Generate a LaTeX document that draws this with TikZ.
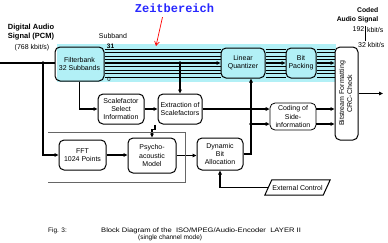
\documentclass[tikz,border=0pt]{standalone}
\usepackage{fontspec}
\setmainfont{Liberation Sans}
\newfontfamily\zmono{Liberation Mono}
\usetikzlibrary{arrows.meta,shapes.geometric,calc}
\definecolor{band}{RGB}{178,240,246}
\definecolor{zblue}{RGB}{40,40,255}
\begin{document}
\begin{tikzpicture}[x=1pt,y=-1pt,
  box/.style={draw,line width=1pt,rounded corners=5pt,align=center,
    font=\fontsize{7}{8.2}\selectfont,inner sep=0pt},
  ln/.style={line width=1.1pt},
  arr/.style={ln,-{Triangle[length=4pt,width=3.6pt]}},
  sub/.style={line width=0.45pt},
  lbl/.style={font=\fontsize{7}{8}\selectfont,inner sep=0pt},
  blbl/.style={font=\bfseries\fontsize{7.5}{8.2}\selectfont,inner sep=0pt,align=center},
  frame/.style={line width=0.6pt,black!60},
  dot/.style={fill=black}
]
\useasboundingbox (0,0) rectangle (388,242);
\fill[white] (0,0) rectangle (388,242);
\fill[band] (57,44) rectangle (336,82);

% boxes
\node[box,minimum width=49pt,minimum height=34pt] (fb) at (79.5,64) {Filterbank\\32 Subbands};
\node[box,minimum width=44pt,minimum height=30pt] (qz) at (243,63) {Linear\\Quantizer};
\node[box,minimum width=30pt,minimum height=30pt] (bp) at (301,63) {Bit\\Packing};
\node[box,fill=white,minimum width=23pt,minimum height=93pt] (bs) at (346.5,93.5)
  {\rotatebox{90}{\begin{tabular}{@{}c@{}}Bitstream Formatting\\CRC-Check\end{tabular}}};
\node[box,minimum width=46pt,minimum height=30pt] (sf) at (121,109) {Scalefactor\\Select\\Information};
\node[box,minimum width=44pt,minimum height=30pt] (ex) at (180,109) {Extraction of\\Scalefactors};
\node[box,line width=0.8pt,minimum width=46pt,minimum height=27pt] (cd) at (293,116.5) {Coding of\\Side-\\information};
\node[box,minimum width=47pt,minimum height=30pt] (fft) at (82.5,155) {FFT\\1024 Points};
\node[box,minimum width=48pt,minimum height=35pt] (ps) at (152,155.5) {Psycho-\\acoustic\\Model};
\node[box,minimum width=46pt,minimum height=32pt] (da) at (220,154) {Dynamic\\Bit\\Allocation};
\node[minimum width=58pt,minimum height=15pt,inner sep=0pt,font=\fontsize{7}{8}\selectfont] (ec) at (297.5,187.5) {External Control};
\draw[line width=1pt] ([xshift=-3.5pt]ec.south west) -- ([xshift=3.5pt]ec.north west)
  -- ([xshift=3.5pt]ec.north east) -- ([xshift=-3.5pt]ec.south east) -- cycle;

% subband lines
\foreach \d in {-14,-10.5,-7,-3.5,3.5,7,10.5,14}{
  \draw[sub] ([yshift=\d pt]qz.west -| fb.east) -- ([yshift=\d pt]qz.west);
  \draw[sub] ([yshift=\d pt]qz.east) -- ([yshift=\d pt]bp.west);
  \draw[sub] ([yshift=\d pt]bp.east) -- ([yshift=\d pt]bp.east -| bs.west);
}
\draw[arr,line width=1.3pt] (fb.east |- qz.west) -- (qz.west);
\draw[arr,line width=1.3pt] (qz.east) -- (bp.west);
\draw[arr,line width=1.3pt] (bp.east) -- (bp.east -| bs.west);

% input
\coordinate (in) at (0,63);
\coordinate (d1) at (43,63);
\draw[ln,line width=1.3pt] (in) -- (fb.west |- in);
\fill[dot] (d1) circle (1.8);
\draw[arr] (d1) |- (fft.west);
\draw[arr] (fb.south) |- (sf.west);
\coordinate (d2) at (180,63);
\fill[dot] (d2) circle (1.8);
\draw[arr] (d2) -- (ex.north);
\draw[arr] (sf.east) -- (ex.west);
\draw[arr] (ex.east) -- (ex.east -| cd.west);
\coordinate (d3) at (251,124);
\draw[ln] (da.east) -| (d3);
\draw[arr] (d3) -- (d3 |- qz.south);
\fill[dot] (d3) circle (1.8);
\draw[arr] (d3) -- (d3 -| cd.west);
\draw[arr] (cd.east |- ex.east) -- (bs.west |- ex.east);
\draw[arr] (cd.east |- d3) -- (bs.west |- d3);
\coordinate (out) at (383,93.5);
\draw[arr] (bs.east) -- (out);
\draw[arr] (fft.east) -- (fft.east -| ps.west);
\draw[arr] (ps.east) -- (ps.east -| da.west);
\draw[arr] ([xshift=-25pt]ex.south) -- ++(0,5) -| (ps.north);
\draw[arr] (ec.west) -| (da.south);

% frame lines
\draw[frame] (48,132) -- (185,132) -- (185,182) -- (48,182);

% labels
\node[font=\zmono\bfseries\fontsize{12}{12}\selectfont,text=zblue,inner sep=0pt] (zb) at (174.5,8.5) {Zeitbereich};
\coordinate (zt) at (156,46);
\draw[red,line width=0.7pt,-{Straight Barb[length=4pt,width=5pt]}] ([xshift=-12pt,yshift=-4pt]zb.south) -- (zt);
\node[blbl] (dig) at (31,32) {Digital Audio\\Signal (PCM)};
\node[lbl] (rate) at (32,47.5) {(768 kbit/s)};
\node[lbl] (sb) at (113,36) {Subband};
\node[lbl,font=\bfseries\fontsize{6.5}{7}\selectfont] (s31) at (110.5,46.5) {31};
\node[lbl,font=\fontsize{6}{7}\selectfont] (s0) at (109,79) {0};
\node[blbl,font=\bfseries\fontsize{6.8}{9}\selectfont,align=right,anchor=east] (cod) at (378.5,15) {Coded\\Audio Signal};
\node[lbl,anchor=east] (r1) at (364.5,29.5) {192};
\node[lbl,anchor=west] (r1u) at (366.8,29.5) {kbit/s};
\node[lbl,anchor=west] (r2) at (358,45) {32 kbit/s};
\coordinate (ra) at (365.7,26);
\coordinate (rb) at (365.7,41);
\draw[line width=0.5pt] (ra) -- (rb);
\node[lbl,anchor=west,font=\fontsize{6.5}{7}\selectfont] (fig) at (48,230.5) {Fig. 3:};
\node[lbl,anchor=west,font=\fontsize{6.5}{7}\selectfont] (cap) at (101,230.5) {\scalebox{1.17}[1]{Block Diagram of the\ \ ISO/MPEG/Audio-Encoder\ \ LAYER II}};
\node[lbl,anchor=west,font=\fontsize{6.5}{7}\selectfont] (cap2) at (138,237.5) {(single channel mode)};
\end{tikzpicture}
\end{document}
